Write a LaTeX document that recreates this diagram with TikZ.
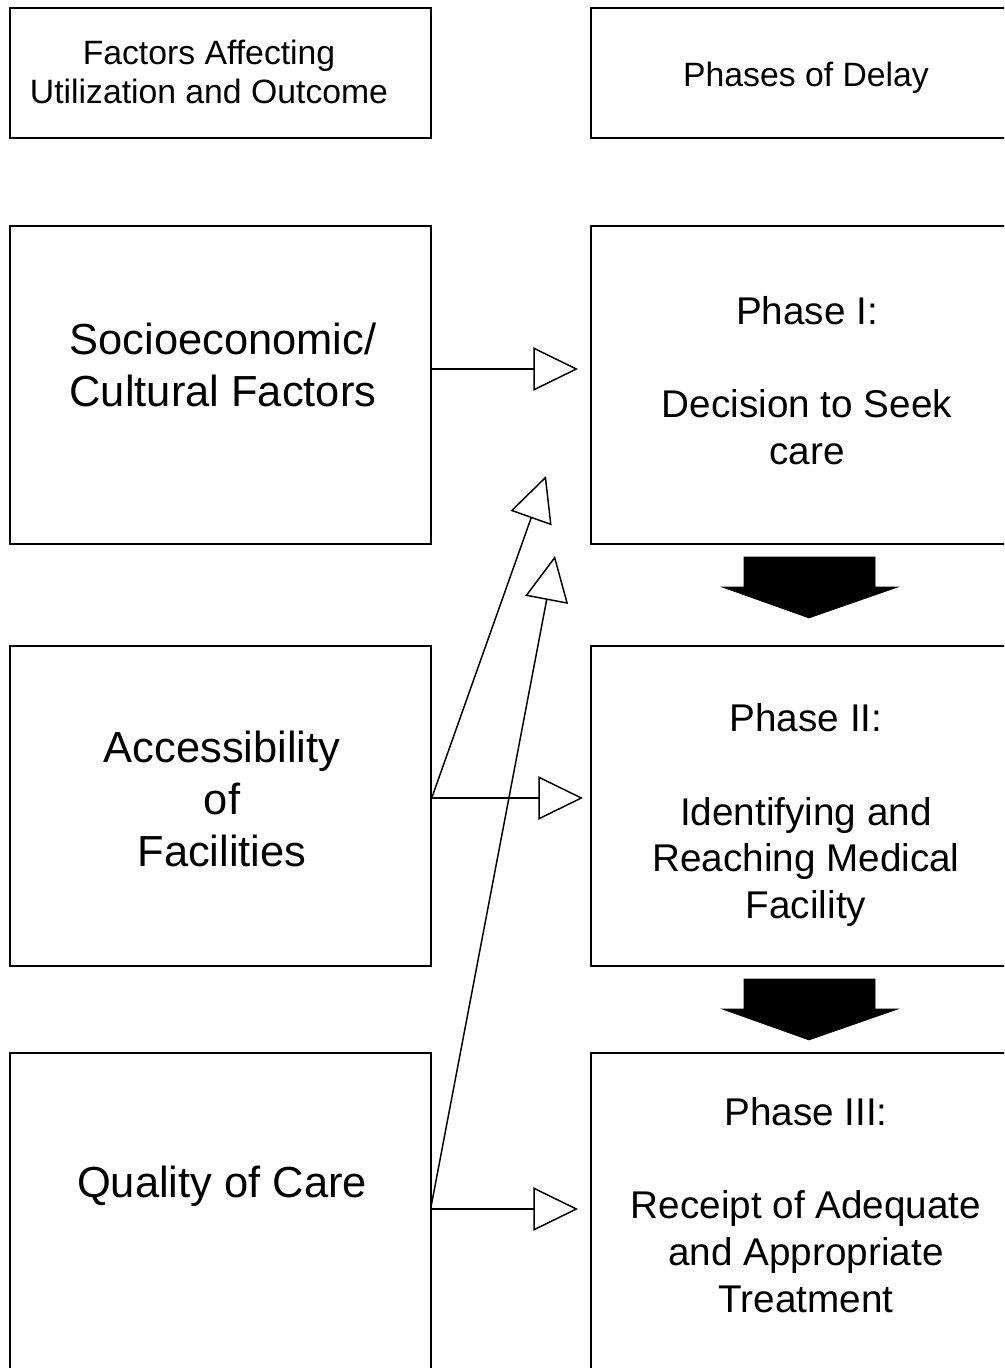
\documentclass[tikz,border=0pt]{standalone}
\usepackage{fontspec}
\setmainfont{Liberation Sans}
\usetikzlibrary{arrows.meta}
\begin{document}
\begin{tikzpicture}[x=0.75pt,y=-0.75pt,
  box/.style={draw, line width=1.3pt, inner sep=0pt, minimum width=#1*0.75pt},
  lbox/.style={box=421},
  rbox/.style={box=432},
  smalltxt/.style={align=center, font=\fontsize{25.3pt}{29.3pt}\selectfont},
  bigtxt/.style={align=center, font=\fontsize{32.6pt}{39pt}\selectfont},
  phtxt/.style={align=center, font=\fontsize{29pt}{35pt}\selectfont},
  opentip/.style={line width=1.1pt, -{Triangle[open, length=33.5pt, width=32.5pt, line width=1.1pt]}},
  blockarrow/.style={fill=black, draw=black, line width=0.4pt}]
\useasboundingbox (0,0) rectangle (1004,1368);
\clip (0,0) rectangle (1004,1368);
% boxes
\node[lbox, minimum height=130*0.75pt] (F) at (220.5,73) {};
\node[rbox, minimum height=130*0.75pt] (D) at (807,73) {};
\node[lbox, minimum height=318*0.75pt] (S) at (220.5,385) {};
\node[rbox, minimum height=318*0.75pt] (P1) at (807,385) {};
\node[lbox, minimum height=320*0.75pt] (A) at (220.5,806) {};
\node[rbox, minimum height=320*0.75pt] (P2) at (807,806) {};
\node[lbox, minimum height=320*0.75pt] (Q) at (220.5,1213) {};
\node[rbox, minimum height=320*0.75pt] (P3) at (807,1213) {};
% texts
\node[smalltxt] (Ft) at (209,72) {Factors Affecting\\Utilization and Outcome};
\node[smalltxt] (Dt) at (806,78) {Phases of Delay};
\node[bigtxt] (St) at (223,365) {Socioeconomic/\\Cultural Factors};
\node[phtxt] (P1t) at (807,380.5) {Phase I:\\\mbox{}\\Decision to Seek\\care};
\node[bigtxt] (At) at (222,799) {Accessibility\\of\\Facilities};
\node[phtxt] (P2t) at (806,815) {Phase II:\\\mbox{}\\Identifying and\\Reaching Medical\\Facility};
\node[bigtxt] (Qt) at (222,1186) {Quality of Care};
\node[phtxt] (P3t) at (806,1205) {Phase III:\\\mbox{}\\Receipt of Adequate\\and Appropriate\\Treatment};
% connector ends
\coordinate (sOut) at (431,369);
\coordinate (p1In) at (578,369);
\coordinate (aOut) at (431,798);
\coordinate (p2In) at (583,798);
\coordinate (aUp) at (431,800);
\coordinate (p1Low) at (546,476);
\coordinate (qOut) at (431,1209);
\coordinate (p3In) at (578,1209);
\coordinate (qUp) at (431,1207);
\coordinate (p1Low2) at (555,556);
\draw[opentip] (sOut) -- (p1In);
\draw[opentip] (aOut) -- (p2In);
\draw[opentip] (qOut) -- (p3In);
\draw[opentip] (aUp) -- (p1Low);
\draw[opentip] (qUp) -- (p1Low2);
% block arrows between phases
\fill[blockarrow] (744,557) -- (875,557) -- (875,587) -- (898,587) -- (809,618) -- (722,587) -- (744,587) -- cycle;
\fill[blockarrow] (744,979) -- (875,979) -- (875,1009) -- (898,1009) -- (809,1040) -- (722,1009) -- (744,1009) -- cycle;
\end{tikzpicture}
\end{document}
